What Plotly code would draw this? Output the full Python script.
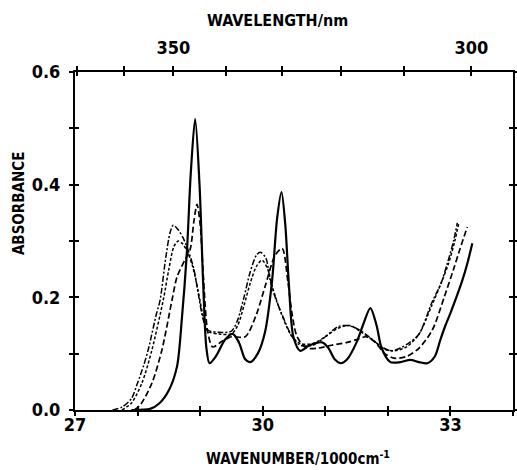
import plotly.graph_objects as go

# ---- data (wavenumber in 1000 cm^-1, absorbance) ----
a_x = [27.9, 28.2, 28.35, 28.5, 28.63, 28.71, 28.79, 28.85, 28.92, 28.99, 29.05, 29.1, 29.15,
       29.25, 29.4, 29.52, 29.62, 29.72, 29.8, 29.92, 30.04, 30.15, 30.23, 30.3, 30.36, 30.42,
       30.49, 30.6, 30.75, 30.95, 31.05, 31.15, 31.25, 31.35, 31.5, 31.6, 31.72, 31.82, 31.9,
       32.04, 32.2, 32.36, 32.5, 32.63, 32.75, 32.84, 32.92, 33.0, 33.19, 33.27, 33.35]
a_y = [0.0, 0.002, 0.012, 0.035, 0.077, 0.165, 0.284, 0.42, 0.517, 0.40, 0.22, 0.11, 0.083,
       0.095, 0.125, 0.135, 0.12, 0.09, 0.085, 0.10, 0.14, 0.23, 0.34, 0.387, 0.33, 0.22,
       0.13, 0.105, 0.115, 0.12, 0.11, 0.09, 0.083, 0.09, 0.12, 0.15, 0.181, 0.15, 0.11,
       0.085, 0.085, 0.089, 0.085, 0.083, 0.095, 0.125, 0.15, 0.172, 0.23, 0.26, 0.296]

b_x = [27.95, 28.05, 28.23, 28.39, 28.55, 28.63, 28.75, 28.84, 28.9, 28.95, 29.0, 29.05, 29.12,
       29.2, 29.35, 29.5, 29.72, 29.9, 30.04, 30.2, 30.31, 30.4, 30.47, 30.55, 30.7, 30.9,
       31.1, 31.35, 31.5, 31.65, 31.8, 31.95, 32.1, 32.3, 32.5, 32.71, 32.9, 33.05, 33.15, 33.27]
b_y = [0.0, 0.01, 0.048, 0.107, 0.195, 0.236, 0.265, 0.285, 0.335, 0.365, 0.33, 0.24, 0.14,
       0.112, 0.122, 0.13, 0.13, 0.17, 0.22, 0.275, 0.287, 0.23, 0.17, 0.13, 0.11, 0.11,
       0.115, 0.12, 0.125, 0.13, 0.12, 0.10, 0.092, 0.095, 0.11, 0.142, 0.20, 0.25, 0.285, 0.325]

c_x = [27.6, 27.75, 27.9, 28.0, 28.1, 28.17, 28.3, 28.36, 28.45, 28.52, 28.57, 28.65, 28.73,
       28.82, 28.9, 28.98, 29.05, 29.12, 29.3, 29.5, 29.6, 29.7, 29.8, 29.9, 29.96, 30.05,
       30.12, 30.2, 30.3, 30.47, 30.6, 30.8, 31.0, 31.2, 31.35, 31.5, 31.7, 31.9, 32.05, 32.2,
       32.35, 32.5, 32.7, 32.85, 32.95, 33.05, 33.11]
c_y = [0.0, 0.005, 0.02, 0.048, 0.08, 0.107, 0.17, 0.195, 0.27, 0.315, 0.328, 0.32, 0.305,
       0.28, 0.25, 0.20, 0.16, 0.142, 0.138, 0.14, 0.16, 0.20, 0.245, 0.275, 0.28, 0.27,
       0.23, 0.20, 0.172, 0.13, 0.115, 0.115, 0.13, 0.148, 0.15, 0.145, 0.13, 0.112, 0.105, 0.11,
       0.12, 0.135, 0.19, 0.225, 0.26, 0.30, 0.332]

d_x = [27.75, 27.9, 28.07, 28.23, 28.41, 28.5, 28.58, 28.65, 28.72, 28.8, 28.88, 28.97, 29.05,
       29.12, 29.3, 29.5, 29.6, 29.7, 29.8, 29.9, 29.99, 30.08, 30.15, 30.3, 30.47, 30.6, 30.8,
       31.0, 31.2, 31.4, 31.55, 31.75, 31.95, 32.1, 32.3, 32.5, 32.7, 32.85, 32.97, 33.07, 33.13]
d_y = [0.0, 0.012, 0.048, 0.107, 0.195, 0.25, 0.29, 0.30, 0.295, 0.28, 0.255, 0.21, 0.165,
       0.14, 0.135, 0.135, 0.15, 0.185, 0.225, 0.255, 0.266, 0.25, 0.22, 0.17, 0.13, 0.118, 0.118,
       0.13, 0.145, 0.15, 0.14, 0.125, 0.108, 0.105, 0.112, 0.135, 0.185, 0.225, 0.26, 0.30, 0.33]

x_major = [27, 30, 33]
x_minor = [28, 29, 31, 32, 34]
x_all = [27, 28, 29, 30, 31, 32, 33, 34]
wl_major = [350, 300]
wl_minor = [370, 360, 340, 330, 320, 310]
y_major = [0.0, 0.2, 0.4, 0.6]
y_minor = [0.1, 0.3, 0.5]
y_all = [0.0, 0.1, 0.2, 0.3, 0.4, 0.5, 0.6]


def wn(wl_list):
    return [10000.0 / w for w in wl_list]


FONT = "DejaVu Sans Condensed, DejaVu Sans"

fig = go.Figure()
styles = [
    (a_x, a_y, "solid", 2.2),
    (b_x, b_y, "6px,3px", 1.7),
    (c_x, c_y, "6px,2px,2px,2px", 1.5),
    (d_x, d_y, "3px,2px", 1.5),
]
for xs, ys, dash, w in styles:
    fig.add_trace(go.Scatter(x=xs, y=ys, mode="lines",
                             line=dict(color="black", width=w, dash=dash,
                                       shape="spline", smoothing=0.8),
                             showlegend=False, hoverinfo="skip"))

# empty traces so that the overlay axes are drawn
for xa, ya in [("x2", "y"), ("x3", "y"), ("x4", "y"), ("x", "y2")]:
    fig.add_trace(go.Scatter(x=[None], y=[None], xaxis=xa, yaxis=ya, mode="lines",
                             showlegend=False, hoverinfo="skip"))

tickfont = dict(family=FONT, size=18, color="black", weight="bold")
tk = dict(tickcolor="black", tickwidth=2, ticklen=4)
common = dict(range=[27, 34], showgrid=False, zeroline=False, automargin=False, **tk)

fig.update_layout(
    width=517, height=470,
    margin=dict(l=75, r=4, t=72, b=60, autoexpand=False),
    paper_bgcolor="white", plot_bgcolor="white",
    xaxis=dict(**common, tickmode="array", tickvals=x_major,
               ticktext=[str(v) for v in x_major], ticks="outside",
               minor=dict(tickmode="array", tickvals=x_minor, ticks="outside", **tk),
               showline=True, linecolor="black", linewidth=2, tickfont=tickfont,
               ticklabelstandoff=-7),
    xaxis3=dict(**common, overlaying="x", side="bottom", tickmode="array", tickvals=x_all,
                ticks="inside", showticklabels=False, showline=False),
    xaxis2=dict(**common, overlaying="x", side="top", tickmode="array",
                tickvals=wn(wl_major), ticktext=[str(v) for v in wl_major],
                minor=dict(tickmode="array", tickvals=wn(wl_minor), ticks="outside", **tk),
                ticks="outside", showline=True, linecolor="black", linewidth=2,
                tickfont=tickfont, ticklabelstandoff=5),
    xaxis4=dict(**common, overlaying="x", side="top", tickmode="array",
                tickvals=wn(wl_major + wl_minor), ticks="inside",
                showticklabels=False, showline=False),
    yaxis=dict(range=[0, 0.6], tickmode="array", tickvals=y_major,
               ticktext=["%.1f" % v for v in y_major], ticks="outside",
               minor=dict(tickmode="array", tickvals=y_minor, ticks="outside", **tk),
               mirror="ticks", showline=True, linecolor="black", linewidth=2,
               showgrid=False, zeroline=False, automargin=False, tickfont=tickfont,
               ticklabelstandoff=5, **tk),
    yaxis2=dict(range=[0, 0.6], overlaying="y", side="left", tickmode="array",
                tickvals=y_all, ticks="inside", mirror="ticks", showticklabels=False,
                showline=False, showgrid=False, zeroline=False, automargin=False, **tk),
    annotations=[
        dict(text="WAVELENGTH/nm", xref="paper", yref="paper", x=0.463, y=1.151,
             showarrow=False, xanchor="center", yanchor="middle",
             font=dict(family=FONT, size=16, color="black", weight="bold")),
        dict(text="WAVENUMBER/1000cm<sup>-1</sup>", xref="paper", yref="paper", x=0.51,
             y=-0.142, showarrow=False, xanchor="center", yanchor="middle",
             font=dict(family=FONT, size=15, color="black", weight="bold")),
        dict(text="ABSORBANCE", xref="paper", yref="paper", x=-0.128, y=0.612,
             textangle=-90, showarrow=False, xanchor="center", yanchor="middle",
             font=dict(family=FONT, size=15, color="black", weight="bold")),
    ],
)

fig.write_html("out.html",
               config={"displayModeBar": False},
               post_script="document.body.style.margin='0';"
                           "document.body.style.overflow='hidden';")
